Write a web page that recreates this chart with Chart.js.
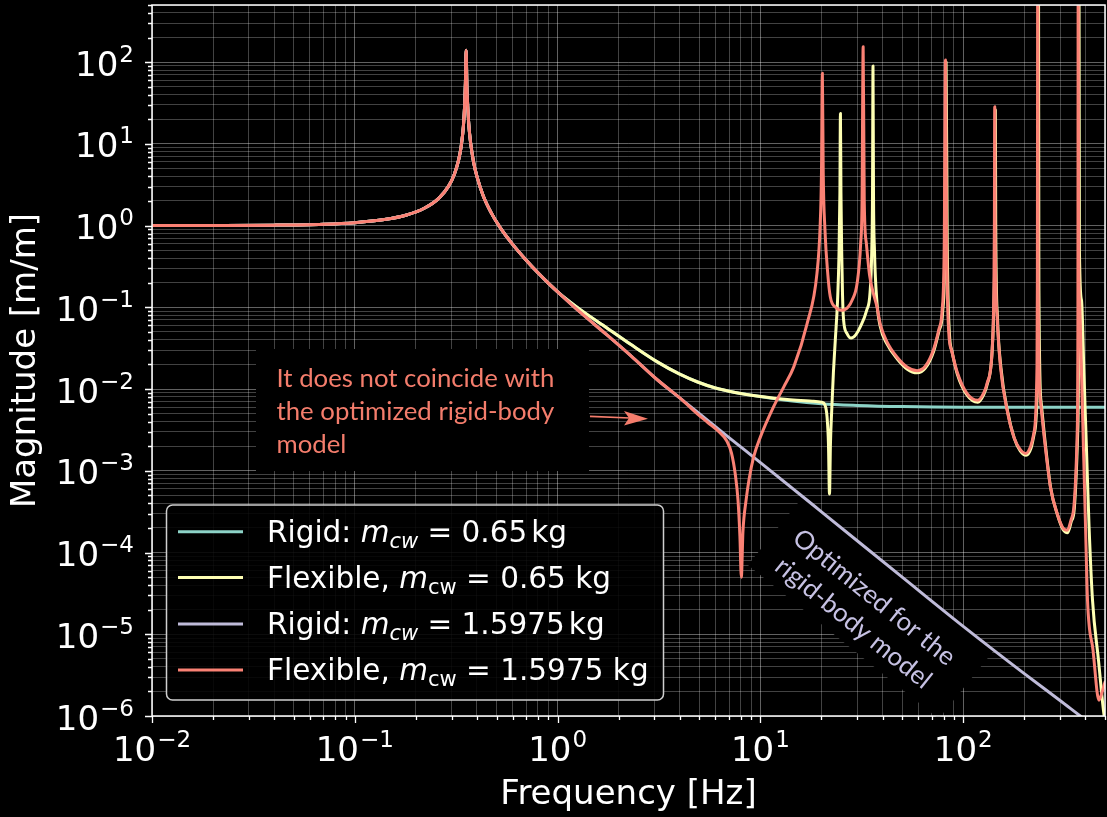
<!DOCTYPE html>
<html>
<head>
<meta charset="utf-8">
<script src="https://cdn.jsdelivr.net/npm/chart.js@4.4.1/dist/chart.umd.min.js"></script>
<style>
  html, body { margin: 0; padding: 0; background: #000; }
  #wrap { width: 1107px; height: 817px; }
</style>
</head>
<body>
<div id="wrap"><canvas id="c" width="1107" height="817"></canvas></div>
<script>
// Axis limits
const X_MIN = 0.01, X_MAX = 500, Y_MIN = 1e-6, Y_MAX = 500;

// Decade tick labels (powers of ten)
const xTickPowers = [-2, -1, 0, 1, 2];
const yTickPowers = [-6, -5, -4, -3, -2, -1, 0, 1, 2];

// Series names
const seriesNames = [
  'Rigid: m_cw = 0.65 kg',
  'Flexible, m_cw = 0.65 kg',
  'Rigid: m_cw = 1.5975 kg',
  'Flexible, m_cw = 1.5975 kg'
];
const seriesColors = ['#8dd3c7', '#feffb3', '#bfbbd9', '#fa8174'];

// Shared low-frequency part [Hz, m/m] (all four models coincide up to 1 Hz)
const lowBand = [
  [0.01, 1.0008], [0.02, 1.0032], [0.04, 1.013], [0.07, 1.041], [0.1, 1.087],
  [0.14, 1.185], [0.18, 1.349], [0.22, 1.629], [0.26, 2.171], [0.29, 3.04],
  [0.31, 4.29], [0.325, 6.37], [0.335, 9.57], [0.343, 16.3], [0.348, 29.8],
  [0.351, 55], [0.354, 140], [0.357, 50], [0.36, 31], [0.365, 17],
  [0.372, 10.5], [0.385, 6.0], [0.4, 4.0], [0.43, 2.3], [0.47, 1.44],
  [0.52, 0.95], [0.6, 0.59], [0.7, 0.378], [0.8, 0.265], [0.9, 0.198], [1.0, 0.155]
];

// Rigid model, m_cw = 0.65 kg
const rigid065 = [
  [1.3, 0.093], [1.75, 0.056], [2.3, 0.035], [3.1, 0.0215], [4, 0.0152],
  [4.9, 0.0122], [6, 0.0103], [7.5, 0.0091], [10, 0.0081], [14, 0.0072],
  [20, 0.0066], [30, 0.0063], [50, 0.0061], [100, 0.006], [200, 0.006], [500, 0.006]
];

// Flexible model, m_cw = 0.65 kg
const flex065 = [
  [1.3, 0.093], [1.75, 0.056], [2.3, 0.035], [3.1, 0.0215], [4, 0.0152],
  [4.9, 0.0122], [6, 0.0103], [7.5, 0.0091], [10, 0.0081], [14, 0.0074],
  [18, 0.0071], [20, 0.0069], [20.8, 0.0064], [21.3, 0.0046], [21.65, 0.0021],
  [21.9, 5.2e-4], [22.15, 2.2e-3], [22.5, 6e-3], [22.9, 0.016], [23.4, 0.04],
  [24.0, 0.12], [24.4, 0.45], [24.65, 2.5], [24.8, 23.6], [24.95, 2.5],
  [25.15, 0.5], [25.4, 0.14], [25.7, 0.07], [26.7, 0.048], [28, 0.042],
  [29.5, 0.046], [31.1, 0.058], [33.4, 0.092], [34.7, 0.15], [35.4, 0.5],
  [35.7, 2.5], [35.9, 89.6], [36.1, 2.5], [36.5, 0.5], [37.6, 0.11],
  [39, 0.058], [42, 0.036], [47.2, 0.0235], [53, 0.0175], [59.2, 0.0158],
  [65, 0.018], [71.5, 0.029], [76, 0.052], [79.2, 0.09], [81.2, 0.6],
  [82.3, 100], [83.4, 0.6], [85.4, 0.05], [88, 0.029], [93.3, 0.0155],
  [104.5, 8.4e-3], [118, 6.9e-3], [126, 8.5e-3], [131, 0.0112], [138.8, 0.029],
  [142, 0.15], [143.4, 1.0], [144, 26], [144.6, 1.0], [147.5, 0.075],
  [153.5, 0.018], [165.5, 5.3e-3], [178.5, 2.5e-3], [191, 1.75e-3], [204, 1.55e-3],
  [216, 1.9e-3], [223.5, 2.8e-3], [233, 0.018], [234, 0.2], [235, 3000],
  [236, 0.2], [242, 7e-3], [251, 2.8e-3], [270, 6.1e-4], [291.5, 2.9e-4],
  [311, 1.9e-4], [327, 1.75e-4], [341, 2.4e-4], [353, 3.5e-4], [366.5, 2.8e-3],
  [370.5, 0.05], [372, 3000], [374, 0.5], [383, 0.122], [394, 0.0148],
  [405.3, 1.79e-3], [417, 2.16e-4], [434, 2.6e-5], [464.5, 4.8e-6], [493.4, 1.08e-6],
  [500, 9e-7]
];

// Rigid model, m_cw = 1.5975 kg
const rigid1598 = [
  [1.3, 0.086], [1.75, 0.046], [2.3, 0.0255], [3.1, 0.013], [4, 7.8e-3],
  [5, 5.0e-3], [7, 2.55e-3], [10, 1.26e-3], [20, 3.15e-4], [50, 5.0e-5],
  [100, 1.25e-5], [200, 3.3e-6], [300, 1.55e-6], [400, 9e-7], [500, 6e-7]
];

// Flexible model, m_cw = 1.5975 kg
const flex1598 = [
  [1.3, 0.086], [1.75, 0.046], [2.3, 0.0255], [3.1, 0.013], [4, 7.8e-3],
  [4.9, 4.95e-3], [5.5, 3.9e-3], [6.2, 3.05e-3], [6.84, 2.3e-3], [7.2, 1.65e-3],
  [7.52, 9e-4], [7.75, 4.4e-4], [7.92, 1.6e-4], [8.05, 5e-5], [8.2, 1.8e-4],
  [8.5, 4.4e-4], [8.8, 8e-4], [9.26, 1.48e-3], [10, 2.6e-3], [11.6, 6.05e-3],
  [13, 0.0105], [14.6, 0.0187], [17, 0.0636], [19, 0.26], [19.7, 1.0],
  [20.0, 4.5], [20.2, 73], [20.4, 4.5], [20.8, 0.9], [21.5, 0.25],
  [22.1, 0.135], [23.5, 0.1], [25.3, 0.092], [27, 0.1], [28.3, 0.122],
  [30, 0.2], [31.2, 0.6], [31.7, 2.0], [32.1, 154], [32.5, 2.0],
  [33.3, 0.6], [34.5, 0.25], [36, 0.15], [37.6, 0.1], [39, 0.062],
  [42, 0.038], [47.2, 0.0245], [53, 0.0185], [59.2, 0.0168], [65, 0.019],
  [71.5, 0.031], [76, 0.055], [78.6, 0.09], [80.6, 0.6], [81.7, 106],
  [82.8, 0.6], [84.8, 0.05], [87.5, 0.03], [93.3, 0.0162], [104.5, 8.8e-3],
  [118, 7.3e-3], [126, 8.9e-3], [131, 0.0117], [138.8, 0.03], [141.5, 0.15],
  [142.4, 1.0], [143, 28.4], [143.6, 1.0], [146.9, 0.077], [152.6, 0.0187],
  [164.6, 5.5e-3], [177.5, 2.6e-3], [190, 1.85e-3], [203, 1.63e-3], [215, 2.0e-3],
  [222.7, 2.86e-3], [231, 0.0187], [232, 0.2], [233, 3000], [234, 0.2],
  [240, 7.2e-3], [249.6, 2.86e-3], [269, 6.35e-4], [290.5, 3.0e-4], [310, 2.0e-4],
  [325.6, 1.87e-4], [340, 2.5e-4], [351, 3.6e-4], [364.5, 2.86e-3], [367.5, 0.05],
  [368.8, 3000], [370.5, 0.5], [374.4, 0.122], [383, 0.0148], [391.8, 1.79e-3],
  [400.7, 2.16e-4], [410, 2.6e-5], [436.4, 6.4e-6], [466.7, 1.56e-6], [485, 2.0e-6],
  [500, 2.6e-6]
];

// Annotation texts
const noteLeft = ['It does not coincide with', 'the optimized rigid-body', 'model'];
const noteRotated = ['Optimized for the', 'rigid-body model'];

// ---------------------------------------------------------------------------

function toPoints(rows) { return rows.map(([x, y]) => ({ x, y })); }

function logTicks(min, max) {
  const out = [];
  for (let e = Math.floor(Math.log10(min)); e <= Math.ceil(Math.log10(max)); e++) {
    for (let k = 1; k <= 9; k++) {
      const v = k * Math.pow(10, e);
      if (v >= min * 0.999 && v <= max * 1.001) out.push({ value: v, major: k === 1 });
    }
  }
  return out;
}

const seriesRows = [
  lowBand.concat(rigid065),
  lowBand.concat(flex065),
  lowBand.concat(rigid1598),
  lowBand.concat(flex1598)
];
const drawOrder = [4, 3, 2, 1];

const datasets = seriesRows.map((rows, i) => ({
  label: seriesNames[i],
  data: toPoints(rows),
  borderColor: seriesColors[i],
  backgroundColor: seriesColors[i],
  borderWidth: 3,
  pointRadius: 0,
  fill: false,
  cubicInterpolationMode: 'monotone',
  order: drawOrder[i],
  borderCapStyle: 'round',
  borderJoinStyle: 'round'
}));

const FONT = '"DejaVu Sans", "Liberation Sans", sans-serif';
const NOTE_FONT = 'Lato, "Open Sans", sans-serif';

function sup(p) { return p < 0 ? '\u2212' + Math.abs(p) : String(p); }

function powLabelWidth(ctx, p) {
  ctx.font = '34px ' + FONT;
  const w1 = ctx.measureText('10').width;
  ctx.font = '23px ' + FONT;
  const w2 = ctx.measureText(sup(p)).width;
  return [w1, w2];
}

function drawPowLabel(ctx, x, baseline, p) {
  const [w1] = powLabelWidth(ctx, p);
  ctx.font = '34px ' + FONT;
  ctx.fillText('10', x, baseline);
  ctx.font = '23px ' + FONT;
  ctx.fillText(sup(p), x + w1 + 1, baseline - 14);
}

// rich text: array of {t, f, dy}
function drawRich(ctx, x, y, parts) {
  let cx = x;
  for (const p of parts) {
    ctx.font = p.f;
    ctx.fillText(p.t, cx, y + (p.dy || 0));
    cx += ctx.measureText(p.t).width + (p.gap || 0);
  }
  return cx;
}

function legendParts(i) {
  const S = 29.5;
  const n = S + 'px ' + FONT;
  const it = 'italic ' + S + 'px ' + FONT;
  const sub = Math.round(S * 0.7) + 'px ' + FONT;
  const subIt = 'italic ' + Math.round(S * 0.7) + 'px ' + FONT;
  const mass = i < 2 ? '0.65' : '1.5975';
  if (i % 2 === 0) {
    return [
      { t: 'Rigid: ', f: n },
      { t: 'm', f: it },
      { t: 'cw', f: subIt, dy: 6 },
      { t: ' = ', f: n },
      { t: mass, f: n, gap: 4 },
      { t: 'kg', f: n }
    ];
  }
  return [
    { t: 'Flexible, ', f: n },
    { t: 'm', f: it },
    { t: 'cw', f: sub, dy: 6 },
    { t: ' = ' + mass + ' kg', f: n }
  ];
}

function noteSize(ctx) {
  ctx.font = '24px ' + NOTE_FONT;
  const w = ctx.measureText(noteLeft[0]).width;
  return 24 * 278 / w;
}

// Black panels behind the annotations (above the grid, below the curves)
const panels = {
  id: 'panels',
  beforeDatasetsDraw(chart) {
    const ctx = chart.ctx;
    ctx.save();
    ctx.fillStyle = '#000';
    ctx.fillRect(256, 349, 333, 122);
    ctx.translate(870.9, 607.7);
    ctx.rotate(38.9 * Math.PI / 180);
    ctx.fillRect(-122.5, -44, 245, 88);
    ctx.restore();
  }
};

// Frame, ticks, labels, legend and annotation text
const decor = {
  id: 'decor',
  afterDatasetsDraw(chart) {
    const ctx = chart.ctx;
    const ca = chart.chartArea;
    const xs = chart.scales.x, ys = chart.scales.y;
    ctx.save();

    // frame
    ctx.strokeStyle = '#ffffff';
    ctx.lineWidth = 1.5;
    ctx.strokeRect(ca.left, ca.top, ca.right - ca.left, ca.bottom - ca.top);

    // tick marks
    ctx.lineWidth = 1.3;
    ctx.beginPath();
    for (const t of logTicks(X_MIN, X_MAX)) {
      const px = Math.round(xs.getPixelForValue(t.value)) + 0.5;
      ctx.moveTo(px, ca.bottom);
      ctx.lineTo(px, ca.bottom + (t.major ? 7 : 4));
    }
    for (const t of logTicks(Y_MIN, Y_MAX)) {
      const py = Math.round(ys.getPixelForValue(t.value)) + 0.5;
      ctx.moveTo(ca.left, py);
      ctx.lineTo(ca.left - (t.major ? 7 : 4), py);
    }
    ctx.stroke();

    // tick labels
    ctx.fillStyle = '#ffffff';
    ctx.textBaseline = 'alphabetic';
    ctx.textAlign = 'left';
    for (const p of xTickPowers) {
      const px = xs.getPixelForValue(Math.pow(10, p));
      const [w1, w2] = powLabelWidth(ctx, p);
      drawPowLabel(ctx, px - (w1 + 1 + w2) / 2, ca.bottom + 45, p);
    }
    for (const p of yTickPowers) {
      const py = ys.getPixelForValue(Math.pow(10, p));
      const [w1, w2] = powLabelWidth(ctx, p);
      drawPowLabel(ctx, 134 - (w1 + 1 + w2), py + 13.5, p);
    }

    // axis titles
    ctx.font = '34px ' + FONT;
    ctx.textAlign = 'center';
    ctx.fillText('Frequency [Hz]', (ca.left + ca.right) / 2, 804);
    ctx.save();
    ctx.translate(35, (ca.top + ca.bottom) / 2);
    ctx.rotate(-Math.PI / 2);
    ctx.fillText('Magnitude [m/m]', 0, 0);
    ctx.restore();

    // legend
    const lx = 166.5, ly = 505, lw = 497, lh = 195, r = 6;
    ctx.beginPath();
    ctx.roundRect(lx, ly, lw, lh, r);
    ctx.fillStyle = 'rgba(0,0,0,0.88)';
    ctx.fill();
    ctx.strokeStyle = '#cfcfcf';
    ctx.lineWidth = 1.5;
    ctx.stroke();
    ctx.textAlign = 'left';
    const rowsY = [531.7, 577.5, 624, 670];
    for (let i = 0; i < 4; i++) {
      ctx.strokeStyle = seriesColors[i];
      ctx.lineWidth = 3;
      ctx.beginPath();
      ctx.moveTo(178, rowsY[i]);
      ctx.lineTo(243, rowsY[i]);
      ctx.stroke();
      ctx.fillStyle = '#ffffff';
      drawRich(ctx, 267, rowsY[i] + 10, legendParts(i));
    }

    // left note
    const ns = noteSize(ctx);
    ctx.font = ns + 'px ' + NOTE_FONT;
    ctx.fillStyle = '#f47d6c';
    ctx.textAlign = 'left';
    const base = [386.7, 420, 452.7];
    noteLeft.forEach((s, i) => ctx.fillText(s, 276.5, base[i]));

    // arrow
    ctx.strokeStyle = '#f47d6c';
    ctx.lineWidth = 1.6;
    ctx.beginPath();
    ctx.moveTo(590, 416.4);
    ctx.lineTo(630, 418);
    ctx.stroke();
    ctx.beginPath();
    ctx.moveTo(648, 418.8);
    ctx.lineTo(624, 411);
    ctx.lineTo(629, 418);
    ctx.lineTo(624, 425.5);
    ctx.closePath();
    ctx.fillStyle = '#f47d6c';
    ctx.fill();

    // rotated note
    ctx.save();
    ctx.translate(870.9, 607.7);
    ctx.rotate(38.9 * Math.PI / 180);
    ctx.font = ns + 'px ' + NOTE_FONT;
    ctx.fillStyle = '#c6c1e3';
    ctx.textAlign = 'center';
    ctx.textBaseline = 'middle';
    ctx.fillText(noteRotated[0], -4, -10);
    ctx.fillText(noteRotated[1], -4, 23);
    ctx.restore();

    ctx.restore();
  }
};

const gridColor = (c) => (c.tick && c.tick.major) ? 'rgba(255,255,255,0.38)' : 'rgba(255,255,255,0.26)';

new Chart(document.getElementById('c'), {
  type: 'line',
  data: { datasets },
  options: {
    responsive: false,
    animation: false,
    devicePixelRatio: 1,
    layout: { padding: { left: 152, right: 2, top: 5, bottom: 101 } },
    plugins: { legend: { display: false }, tooltip: { enabled: false } },
    elements: { line: { tension: 0 } },
    scales: {
      x: {
        type: 'logarithmic', min: X_MIN, max: X_MAX,
        afterBuildTicks: (s) => { s.ticks = logTicks(X_MIN, X_MAX); },
        ticks: { display: false },
        grid: { color: gridColor, lineWidth: 1, drawTicks: false },
        border: { display: false }
      },
      y: {
        type: 'logarithmic', min: Y_MIN, max: Y_MAX,
        afterBuildTicks: (s) => { s.ticks = logTicks(Y_MIN, Y_MAX); },
        ticks: { display: false },
        grid: { color: gridColor, lineWidth: 1, drawTicks: false },
        border: { display: false }
      }
    }
  },
  plugins: [panels, decor]
});
</script>
</body>
</html>
